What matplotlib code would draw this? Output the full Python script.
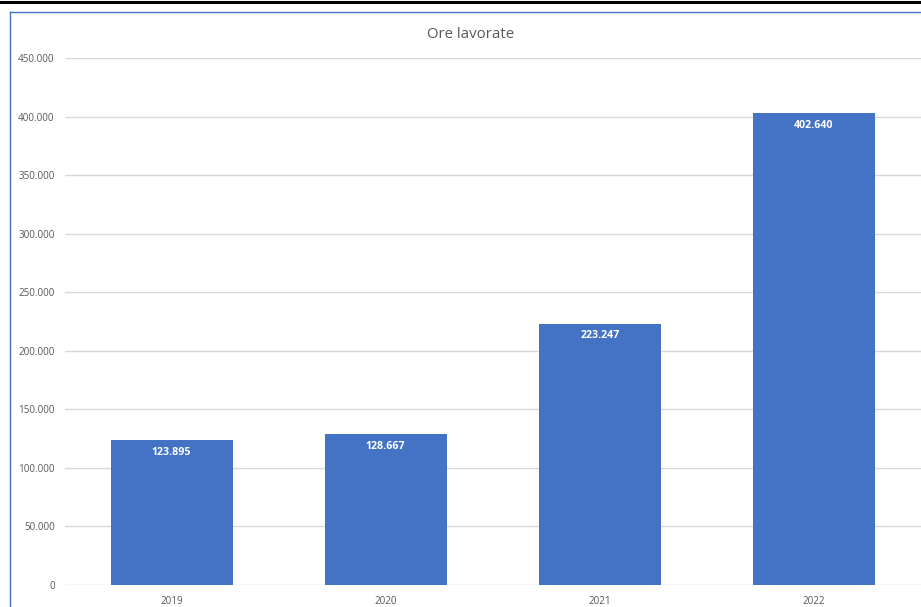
import matplotlib.pyplot as plt
from matplotlib.lines import Line2D
from matplotlib.ticker import FuncFormatter

years = ["2019", "2020", "2021", "2022"]
ore = [123895, 128667, 223247, 402640]

plt.rcParams["font.family"] = ["Open Sans", "DejaVu Sans"]


def it_fmt(v):
    return f"{v:,.0f}".replace(",", ".")


fig = plt.figure(figsize=(9.21, 6.07), dpi=100)
ax = fig.add_axes([64.5 / 921, 1 - 585 / 607, 1 - 64.5 / 921, (585 - 58) / 607])

bars = ax.bar(range(len(years)), ore, width=0.57, color="#4472C4", zorder=3)
for b, v in zip(bars, ore):
    ax.annotate(it_fmt(v), (b.get_x() + b.get_width() / 2, v),
                xytext=(0, -8.8), textcoords="offset points",
                ha="center", va="center", color="white",
                fontsize=7.7, fontweight="bold")

ax.set_xlim(-0.5, 3.5)
ax.set_ylim(0, 450000)
ax.set_yticks(range(0, 450001, 50000))
ax.yaxis.set_major_formatter(FuncFormatter(lambda v, _: it_fmt(v)))
ax.set_xticks(range(len(years)))
ax.set_xticklabels(years)
ax.grid(axis="y", color="#d9d9d9", linewidth=1, zorder=0)
for s in ax.spines.values():
    s.set_visible(False)
ax.tick_params(length=0, labelsize=7.1, colors="#595959", pad=7)
ax.tick_params(axis="x", pad=8)

fig.text(471 / 921, 1 - 35 / 607, "Ore lavorate", ha="center", va="center",
         fontsize=10.8, color="#595959")

# chart frame and separator line
fig.add_artist(Line2D([0, 1], [1 - 1.5 / 607, 1 - 1.5 / 607], color="black", lw=2.2))
fig.add_artist(Line2D([9.5 / 921, 9.5 / 921], [0, 1 - 11.5 / 607], color="#4472C4", lw=1))
fig.add_artist(Line2D([9.5 / 921, 1], [1 - 11.5 / 607, 1 - 11.5 / 607], color="#4472C4", lw=1))

fig.savefig("out.png", dpi=100)
